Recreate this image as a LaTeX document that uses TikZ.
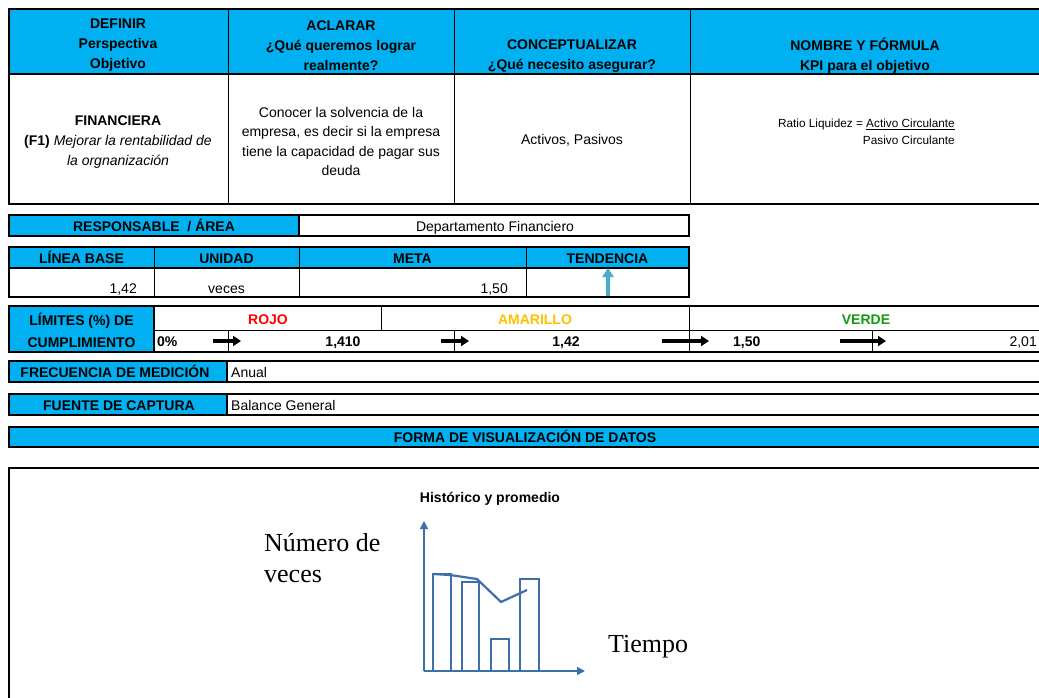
\documentclass[tikz,border=0pt]{standalone}
\usepackage{fontspec}
\setmainfont{Liberation Sans}
\newfontfamily\serifface{Liberation Serif}
\usetikzlibrary{arrows.meta}
\definecolor{hdr}{HTML}{00B0F0}
\definecolor{chartblue}{HTML}{3F6FAA}
\definecolor{trend}{HTML}{4BACC6}
\definecolor{rojo}{HTML}{FF0000}
\definecolor{amarillo}{HTML}{FFC000}
\definecolor{verde}{HTML}{129C12}
\begin{document}
\begin{tikzpicture}[x=1pt,y=-1pt,
  hcell/.style={fill=hdr,draw=black,line width=1.3pt},
  wcell/.style={fill=white,draw=black,line width=1.3pt},
  gridline/.style={draw=black,line width=1pt},
  txt/.style={inner sep=0pt,font=\fontsize{14}{20}\selectfont,align=center},
  btxt/.style={inner sep=0pt,font=\fontsize{14}{20}\selectfont\bfseries,align=center},
  oneline/.style={text height=10pt,text depth=3pt},
  limarrow/.style={line width=3.4pt,-{Triangle[width=10pt,length=8pt]}},
  chartline/.style={draw=chartblue,line width=1.5pt},
  axisarrow/.style={draw=chartblue,line width=1.5pt,-{Triangle[width=8pt,length=8pt]}},
  serifbig/.style={inner sep=0pt,font=\serifface\fontsize{26}{31}\selectfont,align=left}
]
\useasboundingbox (0,0) rectangle (1039,698);
\fill[white] (0,0) rectangle (1039,698);

% ---------- top table ----------
\path[hcell] (9,9) rectangle (1045,74);
\path[wcell] (9,74) rectangle (1045,204);
\draw[gridline] (228,9) -- (228,204) (454,9) -- (454,204) (690,9) -- (690,204);

\node[btxt] (h1) at (118,45.5) {DEFINIR\\Perspectiva\\Objetivo};
\node[btxt] (h2) at (341,45.5) {ACLARAR\\¿Qué queremos lograr\\realmente?};
\node[btxt] (h3) at (572,56) {CONCEPTUALIZAR\\¿Qué necesito asegurar?};
\node[btxt] (h4) at (865,56) {NOMBRE Y FÓRMULA\\KPI para el objetivo};

\node[txt] (b1) at (118,142) {\textbf{FINANCIERA}\\\textbf{(F1)} \textit{Mejorar la rentabilidad de}\\\textit{la orgnanización}};
\node[txt,font=\fontsize{14}{19.3}\selectfont] (b2) at (341,141.5) {Conocer la solvencia de la\\empresa, es decir si la empresa\\tiene la capacidad de pagar sus\\deuda};
\node[txt,oneline] (b3) at (572,141.5) {Activos, Pasivos};
\node[inner sep=0pt,anchor=east,align=right,font=\fontsize{11.8}{17}\selectfont] (b4) at (955,132) {Ratio Liquidez = \underline{Activo Circulante}\\Pasivo Circulante};

% ---------- responsable ----------
\path[hcell] (9,215) rectangle (299,236);
\path[wcell] (299,215) rectangle (689,236);
\node[btxt,oneline] (resp) at (154,227.5) {RESPONSABLE~~/ ÁREA};
\node[txt,oneline] (respv) at (495,227.5) {Departamento Financiero};

% ---------- linea base ----------
\path[hcell] (9,247) rectangle (689,268);
\path[wcell] (9,268) rectangle (689,297);
\draw[gridline] (154,247) -- (154,297) (299,247) -- (299,297) (526,247) -- (526,297);
\node[btxt,oneline] (lb) at (81.5,259.5) {LÍNEA BASE};
\node[btxt,oneline] (un) at (226.5,259.5) {UNIDAD};
\node[btxt,oneline] (me) at (412.5,259.5) {META};
\node[btxt,oneline] (te) at (607.5,259.5) {TENDENCIA};
\node[txt,oneline,anchor=east] (lbv) at (137,289.5) {1,42};
\node[txt,oneline] (unv) at (226.5,289.5) {veces};
\node[txt,oneline,anchor=east] (mev) at (508,289.5) {1,50};
\coordinate (tdn) at (608,296);
\coordinate (tup) at (608,268);
\draw[trend,line width=4pt,-{Triangle[width=11pt,length=9pt]}] (tdn) -- (tup);

% ---------- limites ----------
\path[hcell] (9,306) rectangle (154,352);
\path[wcell] (154,306) rectangle (1045,352);
\draw[gridline] (154,330) -- (1045,330);
\draw[gridline] (381,306) -- (381,330) (689,306) -- (689,352)
  (228,330) -- (228,352) (454,330) -- (454,352) (872,330) -- (872,352);
\node[btxt,font=\fontsize{14}{22}\selectfont\bfseries] (lim) at (81.5,330.5) {LÍMITES (\%) DE\\CUMPLIMIENTO};
\node[btxt,oneline,text=rojo] (rojo) at (268,320.5) {ROJO};
\node[btxt,oneline,text=amarillo] (amar) at (535,320.5) {AMARILLO};
\node[btxt,oneline,text=verde] (verde) at (866,320.5) {VERDE};
\node[btxt,oneline,anchor=west] (l0) at (157,342.5) {0\%};
\node[btxt,oneline] (l1) at (343,342.5) {1,410};
\node[btxt,oneline] (l2) at (566,342.5) {1,42};
\node[btxt,oneline,anchor=west] (l3) at (733,342.5) {1,50};
\node[txt,oneline,anchor=east] (l4) at (1037,342.5) {2,01};
\coordinate (a1s) at (213,341); \coordinate (a1e) at (241,341);
\coordinate (a2s) at (441,341); \coordinate (a2e) at (469,341);
\coordinate (a3s) at (662,341); \coordinate (a3e) at (709,341);
\coordinate (a4s) at (840,341); \coordinate (a4e) at (886,341);
\draw[limarrow] (a1s) -- (a1e);
\draw[limarrow] (a2s) -- (a2e);
\draw[limarrow] (a3s) -- (a3e);
\draw[limarrow] (a4s) -- (a4e);

% ---------- frecuencia / fuente / forma ----------
\path[hcell] (9,361) rectangle (227,382);
\path[wcell] (227,361) rectangle (1045,382);
\node[btxt,oneline] (fr) at (115,373.5) {FRECUENCIA DE MEDICIÓN};
\node[txt,oneline,anchor=west] (frv) at (231,373.5) {Anual};

\path[hcell] (9,394) rectangle (227,415);
\path[wcell] (227,394) rectangle (1045,415);
\node[btxt,oneline] (fu) at (119,406.5) {FUENTE DE CAPTURA};
\node[txt,oneline,anchor=west] (fuv) at (231,406.5) {Balance General};

\path[hcell] (9,427) rectangle (1045,447);
\node[btxt,oneline] (fo) at (525,438.5) {FORMA DE VISUALIZACIÓN DE DATOS};

% ---------- chart box ----------
\draw[line width=1.3pt] (9,705) -- (9,468) -- (1045,468);
\node[btxt,oneline] (ct) at (490,498.5) {Histórico y promedio};

\coordinate (o) at (424,671);
\coordinate (ytop) at (424,521);
\coordinate (xend) at (585,671);
\path[chartline] (433,671) rectangle (451,574);
\path[chartline] (462,671) rectangle (479,582);
\path[chartline] (491,671) rectangle (509,639);
\path[chartline] (520,671) rectangle (539,579);
\draw[chartblue,line width=2.2pt,line join=round] (433,574) -- (450,575) -- (477,579) -- (501,602) -- (527,590);
\draw[axisarrow] (o) -- (ytop);
\draw[axisarrow] (o) -- (xend);

\node[serifbig,anchor=north west] (ny) at (264,533) {Número de\\veces};
\node[serifbig,anchor=base west] (nx) at (608,652) {Tiempo};
\end{tikzpicture}
\end{document}
